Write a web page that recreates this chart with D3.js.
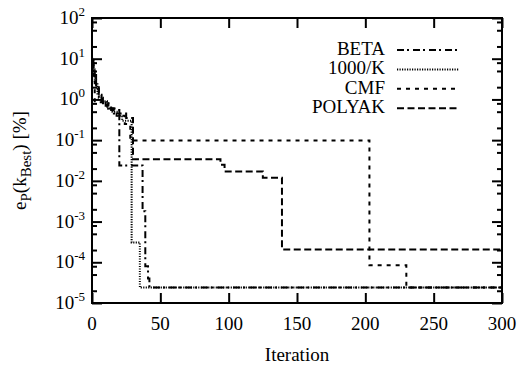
<!DOCTYPE html>
<html>
<head>
<meta charset="utf-8">
<script src="https://cdn.jsdelivr.net/npm/d3@7"></script>
<style>
  body { margin: 0; background: #fff; }
  svg { display: block; }
  text { font-family: "Liberation Serif", "Times New Roman", serif; fill: #000; }
  .tick line { stroke: #000; stroke-width: 2; }
  .series { fill: none; stroke: #000; }
</style>
</head>
<body>
<div id="chart"></div>
<script>
// tick values
const iterTicks = [0, 50, 100, 150, 200, 250, 300];
const decadeExps = [-5, -4, -3, -2, -1, 0, 1, 2];
const minorMults = [2, 5, 8];

// series: best relative error per iteration (step data)
const seriesNames = ["BETA", "1000/K", "CMF", "POLYAK"];

const betaIter = [0, 1, 3, 5, 8, 12, 16, 20, 37, 39, 41, 42, 300];
const betaErr = [9, 4, 2, 1.1, 0.8, 0.6, 0.45, 0.024, 0.0018, 8e-5, 4e-5, 2.4e-5, 2.4e-5];

const invKIter = [0, 1, 2, 4, 7, 11, 15, 19, 22, 29, 35, 300];
const invKErr = [10, 6, 2.5, 1.3, 0.9, 0.6, 0.5, 0.4, 0.3, 3.06e-4, 2.4e-5, 2.4e-5];

const cmfIter = [0, 1, 2, 12, 18, 24, 28, 203, 230, 300];
const cmfErr = [7, 3, 0.85, 0.6, 0.4, 0.25, 0.098, 8.4e-5, 2.4e-5, 2.4e-5];

const polyakIter = [0, 1, 2, 3, 5, 7, 10, 14, 20, 25, 30, 94, 97, 125, 139, 300];
const polyakErr = [8, 5, 3, 1.8, 1.4, 0.9, 0.7, 0.55, 0.45, 0.35, 0.034, 0.025, 0.017, 0.012, 2.07e-4, 2.07e-4];

(function() {
  let W = 522, H = 365;
  let margin = {top: 18, right: 20, bottom: 62, left: 92},
      width = W - margin.left - margin.right,
      height = H - margin.top - margin.bottom;

  let styles = [
    {dash: "7,3,2,4", width: 2},
    {dash: "1.2,1.3", width: 2},
    {dash: "4,5", width: 2},
    {dash: "7,3.5", width: 2}
  ];

  let series = [
    {name: seriesNames[0], it: betaIter, err: betaErr},
    {name: seriesNames[1], it: invKIter, err: invKErr},
    {name: seriesNames[2], it: cmfIter, err: cmfErr},
    {name: seriesNames[3], it: polyakIter, err: polyakErr}
  ];

  let x = d3.scaleLinear().domain([0, 300]).range([0, width]);
  let y = d3.scaleLog().domain([1e-5, 1e2]).range([height, 0]);

  let svg = d3.select("#chart").append("svg")
      .attr("width", W)
      .attr("height", H)
    .append("g")
      .attr("transform", "translate(" + margin.left + "," + margin.top + ")");

  svg.append("clipPath").attr("id", "clip")
    .append("rect").attr("width", width).attr("height", height);

  // series lines
  let line = d3.line()
    .x(d => x(d[0]))
    .y(d => y(d[1]))
    .curve(d3.curveStepAfter);

  series.forEach((s, i) => {
    let pts = s.it.map((v, j) => [v, s.err[j]]);
    svg.append("path")
      .datum(pts)
      .attr("class", "series")
      .attr("clip-path", "url(#clip)")
      .attr("stroke-width", styles[i].width)
      .attr("stroke-dasharray", styles[i].dash)
      .attr("d", line);
  });

  // x axes (bottom and top, inward ticks)
  svg.append("g")
      .attr("transform", "translate(0," + height + ")")
      .call(d3.axisBottom(x).tickValues(iterTicks).tickSize(-10).tickFormat(""))
      .call(g => g.select(".domain").remove());
  svg.append("g")
      .call(d3.axisTop(x).tickValues(iterTicks).tickSize(-10).tickFormat(""))
      .call(g => g.select(".domain").remove());

  svg.selectAll(".x-label")
    .data(iterTicks)
    .enter().append("text")
      .attr("x", d => x(d))
      .attr("y", height + 27)
      .attr("text-anchor", "middle")
      .attr("font-size", 19)
      .text(d => d);

  // y axes: major and minor ticks on both sides
  let majors = decadeExps.map(e => Math.pow(10, e));
  let minors = [];
  decadeExps.slice(0, -1).forEach(e => {
    minorMults.forEach(m => minors.push(m * Math.pow(10, e)));
  });

  svg.append("g")
      .call(d3.axisLeft(y).tickValues(majors).tickSize(-10).tickFormat(""))
      .call(g => g.select(".domain").remove());
  svg.append("g")
      .call(d3.axisLeft(y).tickValues(minors).tickSize(-5).tickFormat(""))
      .call(g => g.select(".domain").remove());
  svg.append("g")
      .attr("transform", "translate(" + width + ",0)")
      .call(d3.axisRight(y).tickValues(majors).tickSize(-10).tickFormat(""))
      .call(g => g.select(".domain").remove());
  svg.append("g")
      .attr("transform", "translate(" + width + ",0)")
      .call(d3.axisRight(y).tickValues(minors).tickSize(-5).tickFormat(""))
      .call(g => g.select(".domain").remove());

  let yl = svg.selectAll(".y-label")
    .data(decadeExps)
    .enter().append("text")
      .attr("x", -7)
      .attr("y", d => y(Math.pow(10, d)) + 6)
      .attr("text-anchor", "end")
      .attr("font-size", 19);
  yl.append("tspan").text("10");
  yl.append("tspan")
      .attr("dy", -8)
      .attr("font-size", 13)
      .text(d => d < 0 ? "-" + (-d) : d);

  // frame
  svg.append("rect")
      .attr("width", width)
      .attr("height", height)
      .attr("fill", "none")
      .attr("stroke", "#000")
      .attr("stroke-width", 2);

  // axis titles
  svg.append("text")
      .attr("x", width / 2)
      .attr("y", height + 58)
      .attr("text-anchor", "middle")
      .attr("font-size", 19)
      .text("Iteration");

  let yt = svg.append("text")
      .attr("transform", "translate(" + (26 - margin.left) + "," + (height / 2) + ") rotate(-90)")
      .attr("text-anchor", "middle")
      .attr("font-size", 19);
  yt.append("tspan").text("e");
  yt.append("tspan").attr("dy", 5).attr("font-size", 15).text("P");
  yt.append("tspan").attr("dy", -5).text("(k");
  yt.append("tspan").attr("dy", 5).attr("font-size", 15).text("Best");
  yt.append("tspan").attr("dy", -5).text(") [%]");

  // legend
  let lg = svg.append("g").attr("transform", "translate(" + (385 - margin.left) + "," + (55 - margin.top) + ")");
  series.forEach((s, i) => {
    let row = lg.append("g").attr("transform", "translate(0," + (i * 19.4) + ")");
    row.append("text")
      .attr("text-anchor", "end")
      .attr("font-size", 19)
      .text(s.name);
    row.append("line")
      .attr("x1", 12).attr("x2", 74)
      .attr("y1", -5).attr("y2", -5)
      .attr("stroke", "#000")
      .attr("stroke-width", styles[i].width)
      .attr("stroke-dasharray", styles[i].dash);
  });
})();
</script>
</body>
</html>
